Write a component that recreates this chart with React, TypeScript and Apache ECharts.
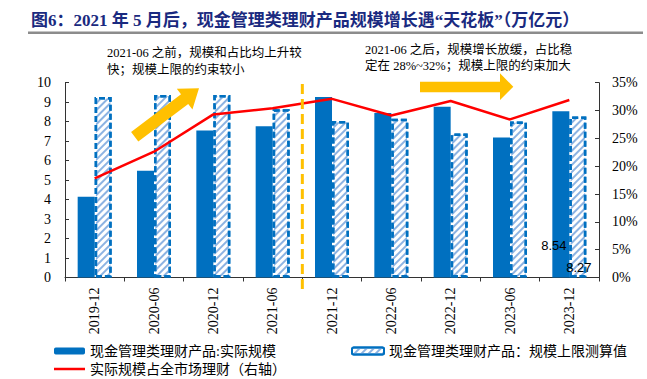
import React, { useEffect, useRef } from "react";
import * as echarts from "echarts";

const categories = ["2019-12", "2020-06", "2020-12", "2021-06", "2021-12", "2022-06", "2022-12", "2023-06", "2023-12"];
const actualScale = [4.15, 5.48, 7.55, 7.77, 9.27, 8.45, 8.76, 7.19, 8.54];
const scaleCap = [9.27, 9.37, 9.37, 8.64, 8.03, 8.15, 7.39, 8.01, 8.27];
const marketShare = [17.8, 22.6, 29.3, 30.4, 32.1, 29.1, 31.7, 28.4, 31.9];
const leftTicks = { min: 0, max: 10, interval: 1 };
const rightTicks = { min: 0, max: 35, interval: 5 };

const seriesNames = [
  "现金管理类理财产品:实际规模",
  "现金管理类理财产品：规模上限测算值",
  "实际规模占全市场理财（右轴）",
];
const titleText = "图6：2021 年 5 月后，现金管理类理财产品规模增长遇“天花板”（万亿元）";
const noteLeft = ["2021-06 之前，规模和占比均上升较", "快；规模上限的约束较小"];
const noteRight = ["2021-06 之后，规模增长放缓，占比稳", "定在 28%~32%；规模上限的约束加大"];

const SERIF = '"Liberation Serif", "Noto Sans CJK SC", serif';
const BLUE = "#0070c0";
const YELLOW = "#ffc000";

function arrowPoints(tail: number[], tip: number[], halfShaft: number, halfHead: number, headLen: number) {
  const dx = tip[0] - tail[0];
  const dy = tip[1] - tail[1];
  const L = Math.sqrt(dx * dx + dy * dy);
  const u = [dx / L, dy / L];
  const p = [-u[1], u[0]];
  const b = [tail[0] + u[0] * (L - headLen), tail[1] + u[1] * (L - headLen)];
  return [
    [tail[0] + p[0] * halfShaft, tail[1] + p[1] * halfShaft],
    [b[0] + p[0] * halfShaft, b[1] + p[1] * halfShaft],
    [b[0] + p[0] * halfHead, b[1] + p[1] * halfHead],
    [tip[0], tip[1]],
    [b[0] - p[0] * halfHead, b[1] - p[1] * halfHead],
    [b[0] - p[0] * halfShaft, b[1] - p[1] * halfShaft],
    [tail[0] - p[0] * halfShaft, tail[1] - p[1] * halfShaft],
  ];
}

export default function App() {
  const ref = useRef<HTMLDivElement>(null);
  useEffect(() => {
    if (!ref.current) return;
    const chart = echarts.init(ref.current, undefined, { renderer: "svg" });
    const last = categories.length - 1;
    const axisLabelStyle = { color: "#000", fontFamily: SERIF, fontSize: 14 };
    const legendBase = {
      orient: "horizontal",
      itemWidth: 31,
      itemHeight: 7,
      padding: 0,
      textStyle: { color: "#000", fontFamily: SERIF, fontSize: 14 },
    };
    const option: any = {
      animation: false,
      backgroundColor: "#fff",
      grid: { left: 65, right: 48, top: 82.7, bottom: 101.5, containLabel: false },
      legend: [
        { ...legendBase, data: [seriesNames[0]], left: 54, top: 344 },
        { ...legendBase, data: [{ name: seriesNames[2], icon: "rect" }], left: 54, top: 362, itemHeight: 2.5 },
        { ...legendBase, data: [seriesNames[1]], left: 351, top: 344, itemWidth: 32 },
      ],
      xAxis: {
        type: "category",
        data: categories,
        axisLine: { lineStyle: { color: "#333", width: 1 } },
        axisTick: { show: true, inside: false, length: 4, alignWithLabel: false, lineStyle: { color: "#333" } },
        axisLabel: { ...axisLabelStyle, rotate: 90, margin: 10, interval: 0 },
      },
      yAxis: [
        {
          type: "value",
          ...leftTicks,
          splitLine: { show: false },
          axisLine: { show: true, lineStyle: { color: "#333" } },
          axisTick: { show: true, inside: true, length: 4, lineStyle: { color: "#333" } },
          axisLabel: { ...axisLabelStyle, margin: 14 },
        },
        {
          type: "value",
          ...rightTicks,
          splitLine: { show: false },
          axisLine: { show: true, lineStyle: { color: "#333" } },
          axisTick: { show: true, inside: true, length: 4, lineStyle: { color: "#333" } },
          axisLabel: { ...axisLabelStyle, margin: 13, formatter: "{value}%" },
        },
      ],
      series: [
        {
          name: seriesNames[0],
          type: "bar",
          barWidth: 17,
          barGap: "0%",
          itemStyle: { color: BLUE },
          data: actualScale.map((v, i) =>
            i === last
              ? {
                  value: v,
                  label: {
                    show: true,
                    position: "insideBottom",
                    distance: 26,
                    offset: [-7, 0],
                    color: "#000",
                    fontFamily: '"Liberation Sans", Arial, sans-serif',
                    fontSize: 13,
                    formatter: "{c}",
                  },
                }
              : v
          ),
        },
        {
          name: seriesNames[1],
          type: "bar",
          barWidth: 17,
          barGap: "0%",
          itemStyle: {
            color: "#ffffff",
            borderColor: BLUE,
            borderWidth: 2.5,
            borderType: [6, 3],
            decal: {
              symbol: "rect",
              symbolSize: 1,
              color: "#8db3e2",
              dashArrayX: [1, 0],
              dashArrayY: [1.5, 2.5],
              rotation: -Math.PI / 4,
            },
          },
          data: scaleCap.map((v, i) =>
            i === last
              ? {
                  value: v,
                  label: {
                    show: true,
                    position: "insideBottom",
                    distance: 4,
                    offset: [1, 0],
                    color: "#000",
                    fontFamily: '"Liberation Sans", Arial, sans-serif',
                    fontSize: 13,
                    formatter: "{c}",
                  },
                }
              : v
          ),
        },
        {
          name: seriesNames[2],
          type: "line",
          yAxisIndex: 1,
          symbol: "none",
          lineStyle: { color: "#ff0000", width: 2.5 },
          itemStyle: { color: "#ff0000" },
          data: marketShare,
        },
      ],
    };
    chart.setOption(option);

    const x3 = chart.convertToPixel({ xAxisIndex: 0 }, categories[3]) as number;
    const x4 = chart.convertToPixel({ xAxisIndex: 0 }, categories[4]) as number;
    const divX = (x3 + x4) / 2;

    const noteStyle = { fill: "#000", font: `12.5px ${SERIF}` };
    chart.setOption({
      graphic: [
        {
          type: "text",
          left: 31,
          top: 12,
          style: { text: titleText, fill: "#1a2a80", font: `bold 17px ${SERIF}` },
        },
        {
          type: "line",
          shape: { x1: 28, y1: 32.7, x2: 643, y2: 32.7 },
          style: { stroke: "#8c8c8c", lineWidth: 2.5 },
        },
        { type: "text", x: 107, y: 52.7, style: { ...noteStyle, text: noteLeft[0], verticalAlign: "middle" } },
        { type: "text", x: 107, y: 70, style: { ...noteStyle, text: noteLeft[1], verticalAlign: "middle" } },
        { type: "text", x: 365, y: 50, style: { ...noteStyle, text: noteRight[0], verticalAlign: "middle" } },
        { type: "text", x: 365, y: 66, style: { ...noteStyle, text: noteRight[1], verticalAlign: "middle" } },
        {
          type: "polygon",
          shape: { points: arrowPoints([134.7, 136.7], [199, 88.3], 6, 13, 18) },
          style: { fill: YELLOW },
          z: 50,
        },
        {
          type: "polygon",
          shape: {
            points: [
              [420, 81.7], [500, 81.7], [500, 73.3], [513.3, 86.7], [500, 100], [500, 92.3], [420, 92.3],
            ],
          },
          style: { fill: YELLOW },
          z: 50,
        },
        {
          type: "line",
          shape: { x1: divX, y1: 84, x2: divX, y2: 289 },
          style: { stroke: YELLOW, lineWidth: 3, lineDash: [10, 5] },
          z: 50,
        },
      ],
    });

    return () => chart.dispose();
  }, []);
  return <div ref={ref} style={{ position: "absolute", left: 0, top: 0, width: 647, height: 379 }} />;
}
